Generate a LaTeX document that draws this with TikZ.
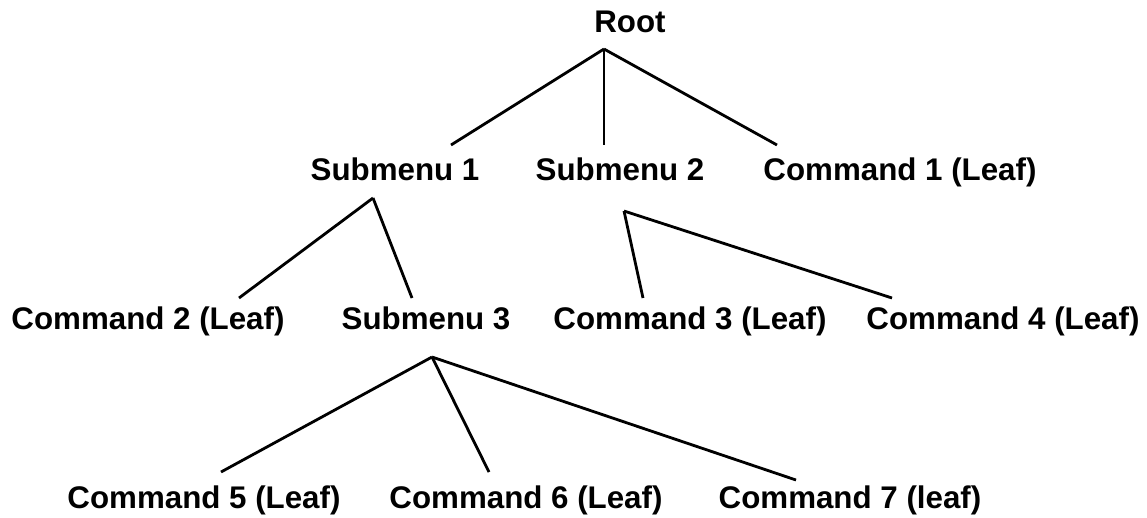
\documentclass[tikz,border=0pt]{standalone}
\usepackage{fontspec}
\setmainfont{Liberation Sans}
\begin{document}
\begin{tikzpicture}[x=1pt,y=-1pt,
  lbl/.style={anchor=base,inner sep=0pt,font=\fontsize{31.3pt}{37pt}\selectfont\bfseries},
  edge/.style={draw=black,line width=2.8pt,line cap=butt}]
\useasboundingbox (0,0) rectangle (1147,517);
% labels
\node[lbl] (root) at (630,32) {Root};
\node[lbl] (sub1) at (395,180) {Submenu 1};
\node[lbl] (sub2) at (620,180) {Submenu 2};
\node[lbl] (cmd1) at (900,180) {Command 1 (Leaf)};
\node[lbl] (cmd2) at (148,329) {Command 2 (Leaf)};
\node[lbl] (sub3) at (426,329) {Submenu 3};
\node[lbl] (cmd3) at (690,329) {Command 3 (Leaf)};
\node[lbl] (cmd4) at (1003,329) {Command 4 (Leaf)};
\node[lbl] (cmd5) at (204,508) {Command 5 (Leaf)};
\node[lbl] (cmd6) at (526,508) {Command 6 (Leaf)};
\node[lbl] (cmd7) at (850,508) {Command 7 (leaf)};
% connector ends
\coordinate (root-s) at (604,49);
\coordinate (sub1-n) at (451,145);
\coordinate (sub2-n) at (604,145);
\coordinate (cmd1-n) at (777,145);
\coordinate (sub1-s) at (373,198);
\coordinate (cmd2-n) at (239,298);
\coordinate (sub3-n) at (412,298);
\coordinate (sub2-s) at (624,211);
\coordinate (cmd3-n) at (643,298);
\coordinate (cmd4-n) at (892,298);
\coordinate (sub3-s) at (432,357);
\coordinate (cmd5-n) at (221,472);
\coordinate (cmd6-n) at (489,472);
\coordinate (cmd7-n) at (796,480);
% connectors
\draw[edge] (root-s) -- (sub1-n);
\draw[edge] (root-s) -- (sub2-n);
\draw[edge] (root-s) -- (cmd1-n);
\draw[edge] (sub1-s) -- (cmd2-n);
\draw[edge] (sub1-s) -- (sub3-n);
\draw[edge] (sub2-s) -- (cmd3-n);
\draw[edge] (sub2-s) -- (cmd4-n);
\draw[edge] (sub3-s) -- (cmd5-n);
\draw[edge] (sub3-s) -- (cmd6-n);
\draw[edge] (sub3-s) -- (cmd7-n);
\end{tikzpicture}
\end{document}
